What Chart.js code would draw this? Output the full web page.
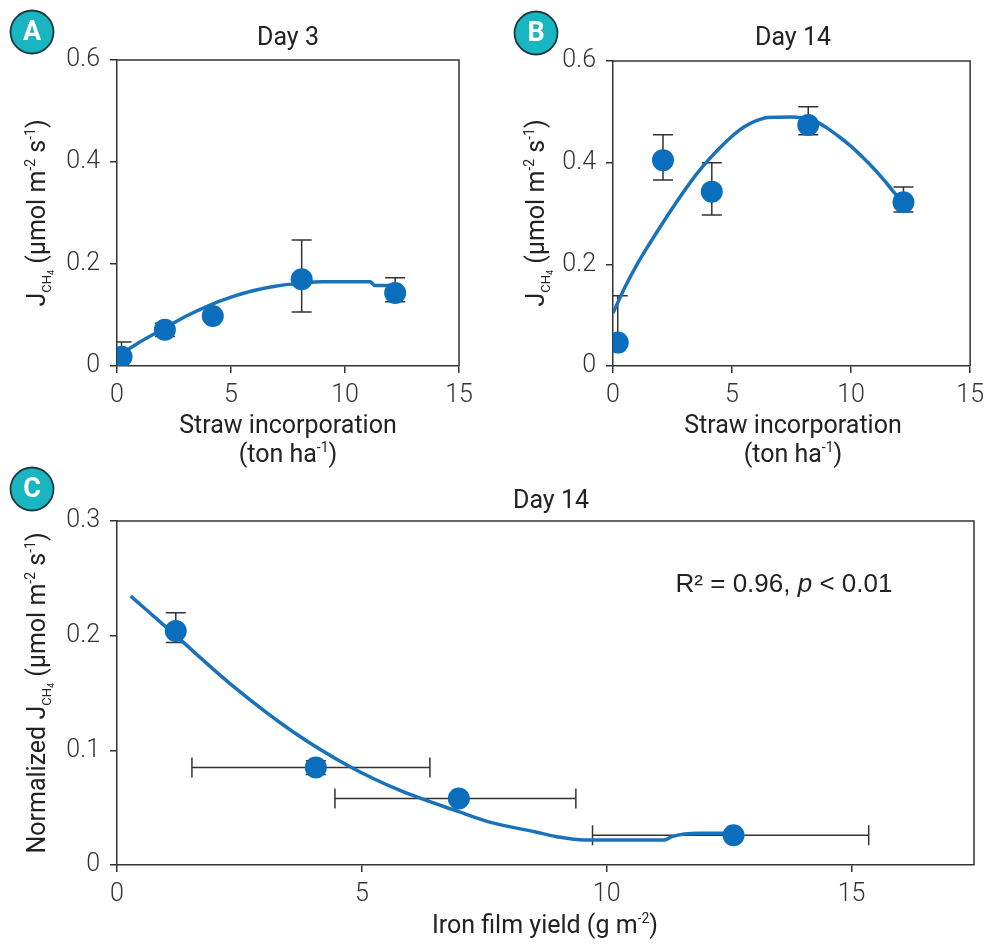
<!DOCTYPE html>
<html>
<head>
<meta charset="utf-8">
<script src="https://cdn.jsdelivr.net/npm/chart.js@4.4.0/dist/chart.umd.min.js"></script>
<style>
  body { margin: 0; background: #fff; }
  #wrap { position: relative; width: 992px; height: 946px; overflow: hidden; }
  canvas { position: absolute; }
</style>
</head>
<body>
<div id="wrap">
  <canvas id="chartA" width="496" height="470" style="left:0;top:0;width:496px;height:470px"></canvas>
  <canvas id="chartB" width="496" height="470" style="left:496px;top:0;width:496px;height:470px"></canvas>
  <canvas id="chartC" width="992" height="486" style="left:0;top:460px;width:992px;height:486px"></canvas>
</div>
<script>
// ---- data ----
const strawTicks = [0, 5, 10, 15];
const fluxTicks = [0, 0.2, 0.4, 0.6];
const ironTicks = [0, 5, 10, 15];
const normTicks = [0, 0.1, 0.2, 0.3];

// Panel A, day 3
const strawA = [0.2, 2.1, 4.2, 8.1, 12.2];
const fluxA = [0.018, 0.071, 0.098, 0.17, 0.143];
const hiA = [0.047, 0.084, 0.104, 0.247, 0.173];
const loA = [0, 0.058, 0.092, 0.106, 0.126];
const fitAx = [0.2, 1, 2, 3, 4, 5, 6, 7, 8, 9, 10, 11.1, 11.3, 12.2];
const fitAy = [0.024, 0.047, 0.072, 0.097, 0.118, 0.135, 0.148, 0.157, 0.162, 0.165, 0.165, 0.165, 0.158, 0.158];

// Panel B, day 14
const strawB = [0.2, 2.1, 4.15, 8.2, 12.2];
const fluxB = [0.046, 0.405, 0.343, 0.474, 0.322];
const hiB = [0.138, 0.455, 0.4, 0.51, 0.352];
const loB = [0.046, 0.366, 0.297, 0.455, 0.303];
const fitBx = [0, 0.5, 1, 1.5, 2, 2.5, 3, 3.5, 4, 4.5, 5, 5.5, 6, 6.5, 7.5, 8.5, 9, 9.5, 10, 10.5, 11, 11.5, 12, 12.2];
const fitBy = [0.104, 0.155, 0.199, 0.238, 0.275, 0.311, 0.345, 0.377, 0.405, 0.43, 0.452, 0.47, 0.482, 0.489, 0.49, 0.481, 0.468, 0.451, 0.432, 0.41, 0.386, 0.359, 0.331, 0.322];

// Panel C, normalized flux vs iron film
const ironC = [1.2, 4.06, 6.98, 12.59];
const fluxC = [0.204, 0.085, 0.058, 0.026];
const yHiC = [0.22, 0.091, 0.058, 0.026];
const yLoC = [0.194, 0.079, 0.058, 0.026];
const xLoC = [1.2, 1.53, 4.45, 9.71];
const xHiC = [1.2, 6.39, 9.37, 15.35];
const fitCx = [0.28, 1.2, 2.37, 3.6, 4.76, 5.78, 6.98, 7.65, 8.53, 8.98, 9.55, 11.18, 11.33, 11.88, 12.4];
const fitCy = [0.2345, 0.2, 0.156, 0.116, 0.0857, 0.065, 0.0465, 0.037, 0.029, 0.0247, 0.0218, 0.0218, 0.0247, 0.0276, 0.0276];

const blue = "#0a6ebd";
const lineBlue = "#1a72bb";
const ink = "#222";
const axisInk = "#333";

function pairs(xs, ys) {
  return xs.map((x, i) => ({ x: x, y: ys[i] }));
}

function richText(ctx, segs, cx, cy, vertical) {
  ctx.save();
  ctx.translate(cx, cy);
  if (vertical) ctx.rotate(-Math.PI / 2);
  ctx.fillStyle = ink;
  ctx.textBaseline = "alphabetic";
  ctx.textAlign = "left";
  let total = 0;
  segs.forEach((s) => {
    ctx.font = (s.style || "") + " " + (s.weight || 400) + " " + s.size + "px " + (s.family || "Roboto");
    s.w = ctx.measureText(s.t).width;
    total += s.w;
  });
  let x = -total / 2;
  segs.forEach((s) => {
    ctx.font = (s.style || "") + " " + (s.weight || 400) + " " + s.size + "px " + (s.family || "Roboto");
    ctx.fillText(s.t, x, s.dy || 0);
    x += s.w;
  });
  ctx.restore();
}

function badge(ctx, letter, cx, cy) {
  ctx.save();
  ctx.beginPath();
  ctx.arc(cx, cy, 21.5, 0, Math.PI * 2);
  ctx.fillStyle = "#19b5c0";
  ctx.fill();
  ctx.lineWidth = 1.8;
  ctx.strokeStyle = "#1d3a40";
  ctx.stroke();
  ctx.fillStyle = "#fff";
  ctx.font = "bold 27px Roboto";
  ctx.textAlign = "center";
  ctx.textBaseline = "middle";
  ctx.fillText(letter, cx, cy + 1);
  ctx.restore();
}

function jch4Segs(prefix) {
  const s = [];
  if (prefix) s.push({ t: prefix, size: 25 });
  s.push({ t: "J", size: 25 });
  s.push({ t: "CH", size: 13, dy: 6 });
  s.push({ t: "4", size: 9, dy: 9 });
  s.push({ t: " (\u03bcmol m", size: 25 });
  s.push({ t: "-2", size: 14, dy: -10 });
  s.push({ t: " s", size: 25 });
  s.push({ t: "-1", size: 14, dy: -10 });
  s.push({ t: ")", size: 25 });
  return s;
}

// error bars drawn under the markers, through the chart's own scales
function errorBarPlugin(xs, ys, yLo, yHi, xLo, xHi) {
  return {
    id: "errbars",
    beforeDatasetsDraw(chart) {
      const ctx = chart.ctx;
      const sx = chart.scales.x;
      const sy = chart.scales.y;
      const a = chart.chartArea;
      ctx.save();
      ctx.beginPath();
      ctx.rect(a.left, a.top - 20, a.right - a.left, a.bottom - a.top + 20);
      ctx.clip();
      ctx.strokeStyle = axisInk;
      ctx.lineWidth = 1.5;
      const cap = 10;
      xs.forEach((x, i) => {
        const px = sx.getPixelForValue(x);
        const py = sy.getPixelForValue(ys[i]);
        if (yLo[i] !== yHi[i]) {
          const t = sy.getPixelForValue(yHi[i]);
          const b = sy.getPixelForValue(yLo[i]);
          ctx.beginPath();
          ctx.moveTo(px, t); ctx.lineTo(px, b);
          ctx.moveTo(px - cap, t); ctx.lineTo(px + cap, t);
          if (yLo[i] !== ys[i]) { ctx.moveTo(px - cap, b); ctx.lineTo(px + cap, b); }
          ctx.stroke();
        }
        if (xLo && xLo[i] !== xHi[i]) {
          const l = sx.getPixelForValue(xLo[i]);
          const r = sx.getPixelForValue(xHi[i]);
          ctx.beginPath();
          ctx.moveTo(l, py); ctx.lineTo(r, py);
          ctx.moveTo(l, py - cap); ctx.lineTo(l, py + cap);
          ctx.moveTo(r, py - cap); ctx.lineTo(r, py + cap);
          ctx.stroke();
        }
      });
      ctx.restore();
    },
  };
}

// top and right sides of the box
const framePlugin = {
  id: "frame",
  afterDraw(chart) {
    const a = chart.chartArea;
    const ctx = chart.ctx;
    ctx.save();
    ctx.strokeStyle = axisInk;
    ctx.lineWidth = 1.5;
    ctx.beginPath();
    ctx.moveTo(a.left, a.top);
    ctx.lineTo(a.right, a.top);
    ctx.lineTo(a.right, a.bottom);
    ctx.stroke();
    ctx.restore();
  },
};

function makeScales(xTicks, yTicks, xMax, yMax, yWidth, xHeight) {
  const grid = { drawOnChartArea: false, drawTicks: true, tickLength: 7, color: axisInk, lineWidth: 1.5 };
  const border = { display: true, color: axisInk, width: 1.5 };
  const tickFont = { family: "Roboto", size: 25, weight: "300" };
  return {
    x: {
      type: "linear",
      min: 0,
      max: xMax,
      grid: grid,
      border: border,
      ticks: { color: axisInk, font: tickFont, padding: 8, maxRotation: 0, autoSkip: false, callback: (v) => String(v) },
      afterBuildTicks: (s) => { s.ticks = xTicks.map((v) => ({ value: v })); },
      afterFit: (s) => { s.height = xHeight; },
    },
    y: {
      type: "linear",
      min: 0,
      max: yMax,
      grid: grid,
      border: border,
      ticks: { color: axisInk, font: tickFont, padding: 10, autoSkip: false, callback: (v) => String(v) },
      afterBuildTicks: (s) => { s.ticks = yTicks.map((v) => ({ value: v })); },
      afterFit: (s) => { s.width = yWidth; },
    },
  };
}

function makeChart(id, cfg) {
  const ctx = document.getElementById(id).getContext("2d");
  return new Chart(ctx, {
    type: "scatter",
    data: {
      datasets: [
        {
          label: "points",
          data: pairs(cfg.xs, cfg.ys),
          pointRadius: 11,
          pointBackgroundColor: blue,
          pointBorderWidth: 0,
          showLine: false,
          order: 1,
        },
        {
          label: "fit",
          data: pairs(cfg.fitX, cfg.fitY),
          showLine: true,
          borderColor: lineBlue,
          borderWidth: 3.5,
          pointRadius: 0,
          cubicInterpolationMode: "monotone",
          fill: false,
          order: 2,
        },
      ],
    },
    options: {
      responsive: false,
      animation: false,
      devicePixelRatio: 1,
      layout: { padding: cfg.padding },
      plugins: { legend: { display: false }, tooltip: { enabled: false } },
      scales: makeScales(cfg.xTicks, cfg.yTicks, cfg.xMax, cfg.yMax, cfg.yWidth, cfg.xHeight),
    },
    plugins: [
      errorBarPlugin(cfg.xs, cfg.ys, cfg.yLo, cfg.yHi, cfg.xLo, cfg.xHi),
      framePlugin,
      { id: "labels", afterDraw: cfg.labels },
    ],
  });
}

document.addEventListener("DOMContentLoaded", function () {
  makeChart("chartA", {
    xs: strawA, ys: fluxA, yLo: loA, yHi: hiA,
    fitX: fitAx, fitY: fitAy,
    xTicks: strawTicks, yTicks: fluxTicks, xMax: 15, yMax: 0.6,
    yWidth: 117, xHeight: 104,
    padding: { left: 0, top: 60, right: 37, bottom: 0 },
    labels: function (chart) {
      const ctx = chart.ctx;
      badge(ctx, "A", 32, 32);
      richText(ctx, [{ t: "Day 3", size: 25 }], 288, 45, false);
      richText(ctx, jch4Segs(""), 45, 213, true);
      richText(ctx, [{ t: "Straw incorporation", size: 25 }], 288, 433, false);
      richText(ctx, [{ t: "(ton ha", size: 25 }, { t: "-1", size: 14, dy: -10 }, { t: ")", size: 25 }], 288, 462, false);
    },
  });

  makeChart("chartB", {
    xs: strawB, ys: fluxB, yLo: loB, yHi: hiB,
    fitX: fitBx, fitY: fitBy,
    xTicks: strawTicks, yTicks: fluxTicks, xMax: 15, yMax: 0.6,
    yWidth: 117, xHeight: 104,
    padding: { left: 0, top: 61, right: 18, bottom: 0 },
    labels: function (chart) {
      const ctx = chart.ctx;
      badge(ctx, "B", 40, 33);
      richText(ctx, [{ t: "Day 14", size: 25 }], 297, 45, false);
      richText(ctx, jch4Segs(""), 48, 213, true);
      richText(ctx, [{ t: "Straw incorporation", size: 25 }], 297, 433, false);
      richText(ctx, [{ t: "(ton ha", size: 25 }, { t: "-1", size: 14, dy: -10 }, { t: ")", size: 25 }], 297, 462, false);
    },
  });

  makeChart("chartC", {
    xs: ironC, ys: fluxC, yLo: yLoC, yHi: yHiC, xLo: xLoC, xHi: xHiC,
    fitX: fitCx, fitY: fitCy,
    xTicks: ironTicks, yTicks: normTicks, xMax: 17.5, yMax: 0.3,
    yWidth: 117, xHeight: 81,
    padding: { left: 0, top: 61, right: 18, bottom: 0 },
    labels: function (chart) {
      const ctx = chart.ctx;
      badge(ctx, "C", 32, 29);
      richText(ctx, [{ t: "Day 14", size: 25 }], 551, 48, false);
      richText(ctx, jch4Segs("Normalized "), 45, 233, true);
      richText(ctx, [{ t: "Iron film yield (g m", size: 25 }, { t: "-2", size: 14, dy: -10 }, { t: ")", size: 25 }], 545, 473, false);
      const r2 = [
        { t: "R\u00b2 = 0.96, ", size: 26, family: "Liberation Sans" },
        { t: "p", size: 26, family: "Liberation Sans", style: "italic" },
        { t: " < 0.01", size: 26, family: "Liberation Sans" },
      ];
      richText(ctx, r2, 784, 132, false);
    },
  });
});
</script>
</body>
</html>
